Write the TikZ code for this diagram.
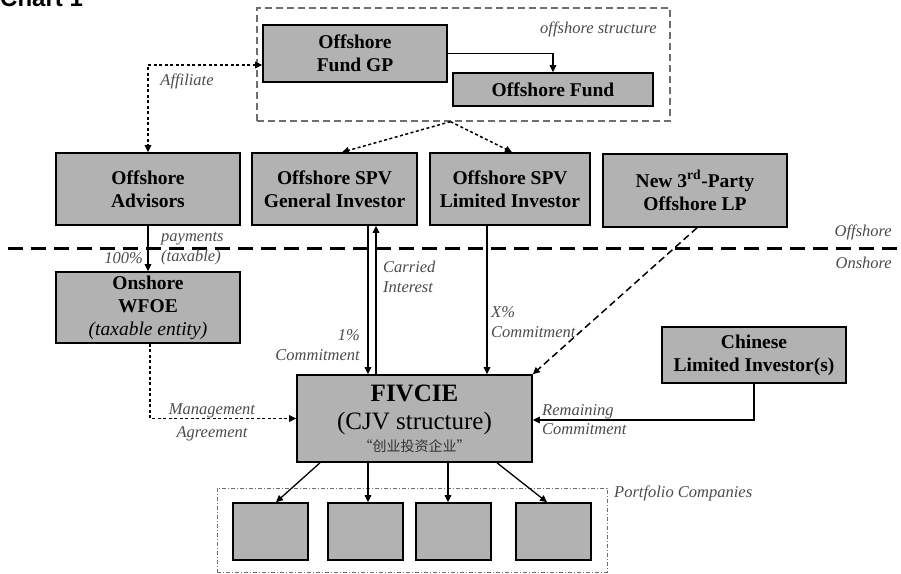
\documentclass[tikz,border=0pt]{standalone}
\usepackage{fontspec}
\setmainfont{Liberation Serif}
\newfontfamily\chartfont{Liberation Sans}
\newfontfamily\cjk{Noto Sans CJK SC}
\usetikzlibrary{arrows.meta}
\definecolor{boxgray}{RGB}{178,178,178}
\definecolor{lblgray}{RGB}{75,75,75}
\definecolor{framegray}{RGB}{110,110,110}

\begin{document}
\begin{tikzpicture}[x=1pt, y=-1pt,
  >={Triangle[length=7pt,width=6.5pt]},
  box/.style={draw, line width=1.6pt, fill=boxgray, inner sep=0pt, align=center,
    font=\fontsize{19.5}{23}\selectfont\bfseries},
  lbl/.style={text=lblgray, inner sep=0pt, font=\fontsize{16.5}{20}\selectfont\itshape},
  conn/.style={->, line width=1.3pt},
  dotconn/.style={->, line width=1.5pt, dash pattern=on 3pt off 2.5pt},
  dashconn/.style={->, line width=1.5pt, dash pattern=on 7pt off 4pt}]

  \useasboundingbox (0,0) rectangle (901,573);
  \clip (0,0) rectangle (901,573);

  % Title (cut at the top)
  \node[anchor=base west, inner sep=0pt, font=\chartfont\fontsize{24}{28}\selectfont\bfseries] (title) at (0,6) {Chart 1};

  % Offshore structure
  \node[draw=framegray, line width=1.3pt, dash pattern=on 7pt off 4pt, minimum width=413pt, minimum height=113pt] (struct) at (463.5,64.5) {};
  \node[lbl, anchor=east] (structlbl) at (657,29) {offshore structure};
  \node[box, minimum width=184pt, minimum height=57pt] (gp) at (355,53.5) {Offshore\\Fund GP};
  \node[box, minimum width=200pt, minimum height=33pt] (fund) at (553,89.5) {Offshore Fund};
  \draw[conn] (gp.east) -| (fund.north);

  % Offshore row
  \node[box, minimum width=184pt, minimum height=72pt] (adv) at (148,189) {Offshore\\Advisors};
  \node[box, minimum width=165pt, minimum height=72pt] (gi) at (334.5,189) {Offshore SPV\\General Investor};
  \node[box, minimum width=160pt, minimum height=72pt] (li) at (510,189) {Offshore SPV\\Limited Investor};
  \node[box, minimum width=184pt, minimum height=73pt] (lp) at (695,190.5) {New 3\textsuperscript{rd}-Party\\Offshore LP};

  \draw[dotconn, <->] ([yshift=-11.5pt]gp.west) -| (adv.north);
  \node[lbl] (affil) at (187,81) {Affiliate};
  \draw[dotconn] ([xshift=-13pt]struct.south) -- ([xshift=7.5pt]gi.north);
  \draw[dotconn] ([xshift=-13pt]struct.south) -- ([xshift=2pt]li.north);

  % Offshore / Onshore divide
  \draw[line width=3pt, dash pattern=on 15pt off 8pt] (8,248) -- (901,248);
  \node[lbl, anchor=east] (offlbl) at (892,232) {Offshore};
  \node[lbl, anchor=east] (onlbl) at (892,263) {Onshore};

  % Onshore
  \node[box, minimum width=184pt, minimum height=71pt] (wfoe) at (148,307.5) {Onshore\\WFOE\\{\mdseries\itshape (taxable entity)}};
  \node[box, minimum width=235pt, minimum height=87pt, font=\fontsize{25}{28}\selectfont] (fiv) at (414.5,418.5)
    {\textbf{FIVCIE}\\(CJV structure)\\[-6pt]{\cjk\fontsize{14}{16}\selectfont\color{black!80}“创业投资企业”}};
  \node[box, minimum width=184pt, minimum height=56pt] (cli) at (754,355) {Chinese\\Limited Investor(s)};

  \draw[conn] (adv) -- (wfoe);
  \node[lbl, anchor=west, align=left] (paylbl) at (161,249) {payments\\(taxable)};
  \node[lbl, anchor=east] (pctlbl) at (143,258) {100\%};

  \coordinate (gidown) at ([xshift=33.5pt]gi.south);
  \coordinate (giup) at ([xshift=41.5pt]gi.south);
  \draw[conn] (gidown) -- (gidown |- fiv.north);
  \draw[conn] (giup |- fiv.north) -- (giup);
  \node[lbl, anchor=west, align=left] (carrlbl) at (383,277) {Carried\\Interest};
  \node[lbl, anchor=east, align=right] (onelbl) at (360,345) {1\%\\Commitment};

  \coordinate (lidown) at ([xshift=-23pt]li.south);
  \draw[conn] (lidown) -- (lidown |- fiv.north);
  \node[lbl, anchor=west, align=left] (xlbl) at (491,322) {X\%\\Commitment};

  \draw[dashconn] ([xshift=2pt]lp.south) -- (fiv.north east);

  \draw[conn] (cli.south) |- ([yshift=-1.5pt]fiv.east);
  \node[lbl, anchor=west, align=left] (remlbl) at (542,420) {Remaining\\[-1pt]Commitment};

  \draw[dotconn] ([xshift=2pt]wfoe.south) |- (fiv.west);
  \node[lbl, align=center] (mgmtlbl) at (212,422) {Management\\[3pt]Agreement};

  % Portfolio companies
  \node[draw=framegray, line width=1pt, dash pattern=on 4pt off 2pt on 1pt off 2pt, minimum width=390pt, minimum height=84pt] (port) at (412,530) {};
  \node[lbl, anchor=west] (portlbl) at (614,493) {Portfolio Companies};
  \node[box, minimum width=75pt, minimum height=57pt] (p1) at (270.5,531.5) {};
  \node[box, minimum width=75pt, minimum height=57pt] (p2) at (365.5,531.5) {};
  \node[box, minimum width=75pt, minimum height=57pt] (p3) at (453.5,531.5) {};
  \node[box, minimum width=75pt, minimum height=57pt] (p4) at (553.5,531.5) {};
  \draw[conn] ([xshift=-94.5pt]fiv.south) -- ([xshift=5.5pt]p1.north);
  \draw[conn] ([xshift=-46.5pt]fiv.south) -- ([xshift=2.5pt]p2.north);
  \draw[conn] ([xshift=33.5pt]fiv.south) -- ([xshift=-5.5pt]p3.north);
  \draw[conn] ([xshift=82.5pt]fiv.south) -- ([xshift=-6.5pt]p4.north);
\end{tikzpicture}
\end{document}
